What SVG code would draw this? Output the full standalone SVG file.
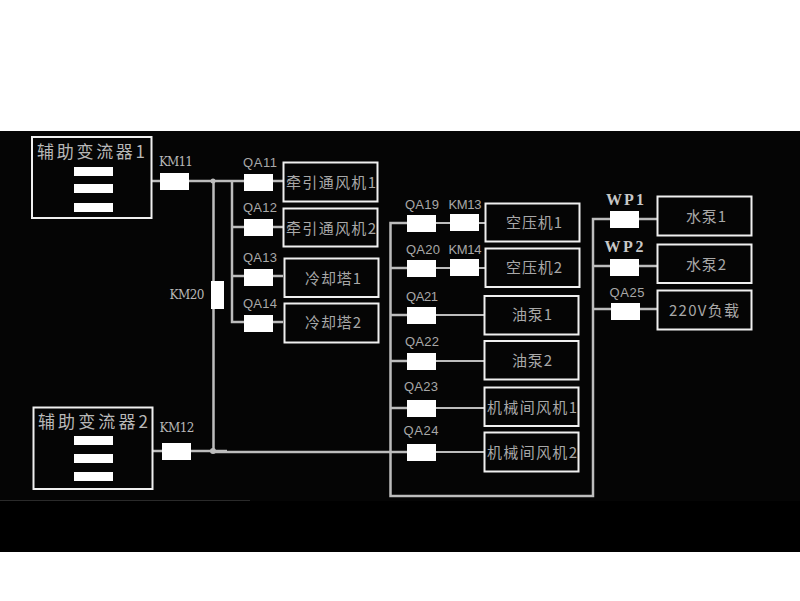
<svg xmlns="http://www.w3.org/2000/svg" width="800" height="601" viewBox="0 0 800 601">
<style>
.sw{fill:#fff}
.box{fill:#050505;stroke:#f0f0f0;stroke-width:2}
.l{fill:none;stroke:#bdbdbd;stroke-width:2.500}
.t{fill:none;stroke:#bdbdbd;stroke-width:2}
.cn{font-family:"Noto Sans CJK SC","Liberation Sans",sans-serif;font-size:15px;fill:#a8a8a8;text-anchor:middle}
.big{font-size:17px;fill:#b8b8b8}
.lb{font-family:"Liberation Sans",sans-serif;font-size:13px;fill:#a8a8a8;text-anchor:middle}
.km{font-family:"DejaVu Serif",serif;font-size:12px;fill:#b8b8b8;text-anchor:middle}
.wp{font-family:"Liberation Serif",serif;font-size:16px;font-weight:bold;fill:#c8c8c8;text-anchor:middle}
</style>
<rect width="800" height="601" fill="#fff"/>
<rect y="131" width="800" height="421" fill="#050505"/>
<rect y="501" width="800" height="51" fill="#000"/>
<path d="M0 500.500H250" stroke="#2a2a2a" fill="none"/>
<g id="connectors">
<path class="l" d="M152 181H232M213.500 181V451M232 181V322H244M232 181H283M232 227H283M232 276H283M232 322H283"/>
<path class="l" d="M153 451H227M213 452H407"/>
<path class="l" d="M407 223H390.500V496H593V219H610M390 268H407M390 315H407M390 361H407M390 408H407"/>
<path class="t" d="M436 223H485M436 268H485M436 315H485M436 361H485M436 408H485M436 452H485"/>
<path class="l" d="M639 219H657M593 266H657M593 309H657"/>
<circle cx="213" cy="181" r="2.500" fill="#bdbdbd"/>
<circle cx="213" cy="451" r="3" fill="#bdbdbd"/>
</g>
<g id="conv1"><rect class="box" x="32" y="137" width="119.500" height="81"/><text class="cn big" x="91" y="158" textLength="108">辅助变流器1</text><rect class="sw" x="74" y="167" width="39" height="9"/><rect class="sw" x="74" y="184" width="39" height="9"/><rect class="sw" x="74" y="203" width="39" height="9"/></g>
<g id="conv2"><rect class="box" x="33.500" y="407.500" width="119" height="81.500"/><text class="cn big" x="93" y="428" textLength="110">辅助变流器2</text><rect class="sw" x="74" y="436" width="39" height="9"/><rect class="sw" x="74" y="454" width="39" height="9"/><rect class="sw" x="74" y="472" width="39" height="9"/></g>
<g id="km11"><rect class="sw" x="160" y="173" width="29" height="17"/><text class="km" x="176" y="166" textLength="34">KM11</text></g>
<g id="km12"><rect class="sw" x="162" y="443" width="29" height="17"/><text class="km" x="177" y="432" textLength="35">KM12</text></g>
<g id="km20"><rect class="sw" x="211" y="281" width="13" height="28"/><text class="km" x="187" y="299" textLength="35">KM20</text></g>
<g id="qa11"><rect class="sw" x="244" y="174" width="29" height="17"/><text class="lb" x="260" y="167" textLength="34">QA11</text></g>
<g id="qa12"><rect class="sw" x="244" y="219" width="29" height="17"/><text class="lb" x="260" y="212" textLength="34">QA12</text></g>
<g id="qa13"><rect class="sw" x="244" y="269" width="29" height="17"/><text class="lb" x="260" y="262" textLength="34">QA13</text></g>
<g id="qa14"><rect class="sw" x="244" y="315" width="29" height="17"/><text class="lb" x="260" y="308" textLength="34">QA14</text></g>
<g id="n1"><rect class="box" x="283.500" y="162.500" width="94" height="39"/><text class="cn" x="331" y="188" textLength="90">牵引通风机1</text></g>
<g id="n2"><rect class="box" x="283.500" y="208.500" width="94" height="38"/><text class="cn" x="331" y="234" textLength="90">牵引通风机2</text></g>
<g id="n3"><rect class="box" x="284.500" y="258.500" width="94" height="38.500"/><text class="cn" x="333" y="284" textLength="56">冷却塔1</text></g>
<g id="n4"><rect class="box" x="284.500" y="303.500" width="94" height="39"/><text class="cn" x="333" y="328" textLength="56">冷却塔2</text></g>
<g id="qa19"><rect class="sw" x="407" y="215" width="29" height="17"/><text class="lb" x="422" y="209" textLength="34">QA19</text></g>
<g id="km13"><rect class="sw" x="450" y="214" width="29" height="17"/><text class="lb" x="465" y="209" textLength="33">KM13</text></g>
<g id="qa20"><rect class="sw" x="407" y="260" width="29" height="17"/><text class="lb" x="423" y="254" textLength="34">QA20</text></g>
<g id="km14"><rect class="sw" x="450" y="259" width="29" height="17"/><text class="lb" x="465" y="254" textLength="33">KM14</text></g>
<g id="qa21"><rect class="sw" x="407" y="307" width="29" height="17"/><text class="lb" x="422" y="301" textLength="32">QA21</text></g>
<g id="qa22"><rect class="sw" x="407" y="353" width="29" height="17"/><text class="lb" x="422" y="346" textLength="34">QA22</text></g>
<g id="qa23"><rect class="sw" x="407" y="400" width="29" height="17"/><text class="lb" x="421" y="391" textLength="34">QA23</text></g>
<g id="qa24"><rect class="sw" x="407" y="444" width="29" height="17"/><text class="lb" x="421" y="435" textLength="35">QA24</text></g>
<g id="n5"><rect class="box" x="485.500" y="203.500" width="94" height="38"/><text class="cn" x="534" y="228" textLength="56">空压机1</text></g>
<g id="n6"><rect class="box" x="485.500" y="248.500" width="94" height="38.500"/><text class="cn" x="534" y="273" textLength="56">空压机2</text></g>
<g id="n7"><rect class="box" x="484.500" y="296" width="94" height="38.500"/><text class="cn" x="532" y="320" textLength="40">油泵1</text></g>
<g id="n8"><rect class="box" x="484.500" y="341" width="94" height="38.500"/><text class="cn" x="532" y="366" textLength="40">油泵2</text></g>
<g id="n9"><rect class="box" x="484.500" y="387.500" width="94" height="38.500"/><text class="cn" x="532" y="413" textLength="90">机械间风机1</text></g>
<g id="n10"><rect class="box" x="484.500" y="432.500" width="94" height="39"/><text class="cn" x="532" y="458" textLength="90">机械间风机2</text></g>
<g id="wp1"><rect class="sw" x="610" y="211" width="29" height="17"/><text class="wp" x="625" y="205" textLength="38">WP1</text></g>
<g id="wp2"><rect class="sw" x="610" y="259" width="29" height="17"/><text class="wp" x="624" y="252" textLength="39">WP2</text></g>
<g id="qa25"><rect class="sw" x="611" y="303" width="29" height="17"/><text class="lb" x="627" y="297" textLength="35">QA25</text></g>
<g id="n11"><rect class="box" x="657.500" y="196.500" width="94" height="39"/><text class="cn" x="706" y="222" textLength="40">水泵1</text></g>
<g id="n12"><rect class="box" x="657.500" y="244.500" width="94" height="38.500"/><text class="cn" x="706" y="270" textLength="40">水泵2</text></g>
<g id="n13"><rect class="box" x="657.500" y="290.500" width="94" height="39"/><text class="cn" x="704" y="316" textLength="70">220V负载</text></g>
</svg>
